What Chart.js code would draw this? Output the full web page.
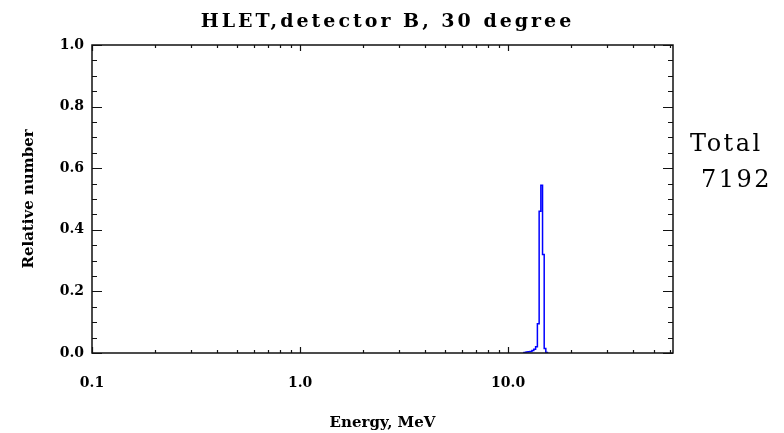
<!DOCTYPE html>
<html>
<head>
<meta charset="utf-8">
<script src="https://cdn.jsdelivr.net/npm/chart.js@4/dist/chart.umd.min.js"></script>
<style>
html,body{margin:0;padding:0;background:#fff;}
#wrap{width:784px;height:433px;position:relative;}
</style>
</head>
<body>
<div id="wrap"><canvas id="c" width="784" height="433"></canvas></div>
<script>
// ---- data ----
const energies   = [11.8, 12.07, 12.34, 12.61, 12.88, 13.15, 13.42, 13.69, 13.96, 14.23, 14.50, 14.77, 15.04, 15.31, 15.58];
const relNumber  = [0.0,  0.002, 0.003, 0.004, 0.005, 0.008, 0.012, 0.02,  0.095, 0.46,  0.545, 0.32,  0.015, 0.002, 0.0];
const xTickValues = [0.1, 1, 10];
const xTickLabels = ['0.1', '1.0', '10.0'];
const yTickValues = [0, 0.2, 0.4, 0.6, 0.8, 1.0];
const yTickLabels = ['0.0', '0.2', '0.4', '0.6', '0.8', '1.0'];
const titleText = 'HLET,detector B, 30 degree';
const totalLabel = 'Total';
const totalCount = '7192';
const xMin = 0.1, xMax = 62, yMin = 0, yMax = 1.0;

const points = energies.map((e, i) => ({x: e, y: relNumber[i]}));

const boxPlugin = {
  id: 'box',
  afterDraw(chart) {
    const ctx = chart.ctx;
    const a = chart.chartArea;
    const xs = chart.scales.x, ys = chart.scales.y;
    ctx.save();
    ctx.strokeStyle = '#111';
    ctx.lineWidth = 1.5;
    ctx.strokeRect(a.left, a.top, a.right - a.left, a.bottom - a.top);
    ctx.lineWidth = 1.2;
    ctx.beginPath();
    // y ticks (left and right, inward)
    for (let k = 0; k <= 20; k++) {
      const v = yMin + k * 0.05;
      const py = Math.round(ys.getPixelForValue(v)) + 0.5;
      const len = (k % 4 === 0) ? 10 : 5;
      ctx.moveTo(a.left, py); ctx.lineTo(a.left + len, py);
      ctx.moveTo(a.right, py); ctx.lineTo(a.right - len, py);
    }
    // x ticks (bottom and top, inward)
    for (let d = 0.1; d < xMax; d *= 10) {
      for (let m = 1; m <= 9; m++) {
        const v = d * m;
        if (v < xMin - 1e-9 || v > xMax) continue;
        const px = Math.round(xs.getPixelForValue(v)) + 0.5;
        const len = (m === 1) ? 6 : 3;
        ctx.moveTo(px, a.bottom); ctx.lineTo(px, a.bottom - len);
        ctx.moveTo(px, a.top); ctx.lineTo(px, a.top + len);
      }
    }
    ctx.stroke();

    // title
    ctx.fillStyle = '#000';
    ctx.font = 'bold 19px "DejaVu Serif"';
    ctx.letterSpacing = '3px';
    ctx.textAlign = 'left';
    ctx.textBaseline = 'alphabetic';
    const tw = ctx.measureText(titleText).width - 3;
    ctx.fillText(titleText, 386 - tw / 2, 27);

    // total
    ctx.font = '24px "DejaVu Serif"';
    ctx.letterSpacing = '2.5px';
    ctx.fillText(totalLabel, 690, 151);
    ctx.fillText(totalCount, 701, 187);
    ctx.restore();
  }
};

new Chart(document.getElementById('c'), {
  type: 'line',
  data: {
    datasets: [{
      data: points,
      borderColor: '#0000ff',
      borderWidth: 1.5,
      pointRadius: 0,
      stepped: 'middle',
      fill: false
    }]
  },
  options: {
    responsive: false,
    animation: false,
    events: [],
    layout: { padding: { top: 45, right: 111, left: 0, bottom: 0 } },
    plugins: { legend: { display: false }, title: { display: false }, tooltip: { enabled: false } },
    scales: {
      x: {
        type: 'logarithmic',
        min: xMin, max: xMax,
        afterFit(s) { s.height = 80; },
        afterBuildTicks(s) { s.ticks = xTickValues.map(v => ({value: v})); },
        grid: { display: false, drawTicks: false },
        border: { display: false },
        ticks: {
          autoSkip: false, maxRotation: 0, padding: 22, color: '#000',
          font: { family: 'DejaVu Serif', weight: 'bold', size: 14 },
          callback(v) { const i = xTickValues.indexOf(v); return i >= 0 ? xTickLabels[i] : ''; }
        },
        title: {
          display: true, text: 'Energy, MeV', color: '#000',
          font: { family: 'DejaVu Serif', weight: 'bold', size: 15 },
          padding: { top: 0, bottom: 1 }
        }
      },
      y: {
        min: yMin, max: yMax,
        afterFit(s) { s.width = 92; },
        afterBuildTicks(s) { s.ticks = yTickValues.map(v => ({value: v})); },
        grid: { display: false, drawTicks: false },
        border: { display: false },
        ticks: {
          autoSkip: false, padding: 8, color: '#000',
          font: { family: 'DejaVu Serif', weight: 'bold', size: 14 },
          callback(v) { const i = yTickValues.findIndex(t => Math.abs(t - v) < 1e-9); return i >= 0 ? yTickLabels[i] : ''; }
        },
        title: {
          display: true, text: 'Relative number', color: '#000',
          font: { family: 'DejaVu Serif', weight: 'bold', size: 15 },
          padding: { top: 20, bottom: 0 }
        }
      }
    }
  },
  plugins: [boxPlugin]
});
</script>
</body>
</html>
